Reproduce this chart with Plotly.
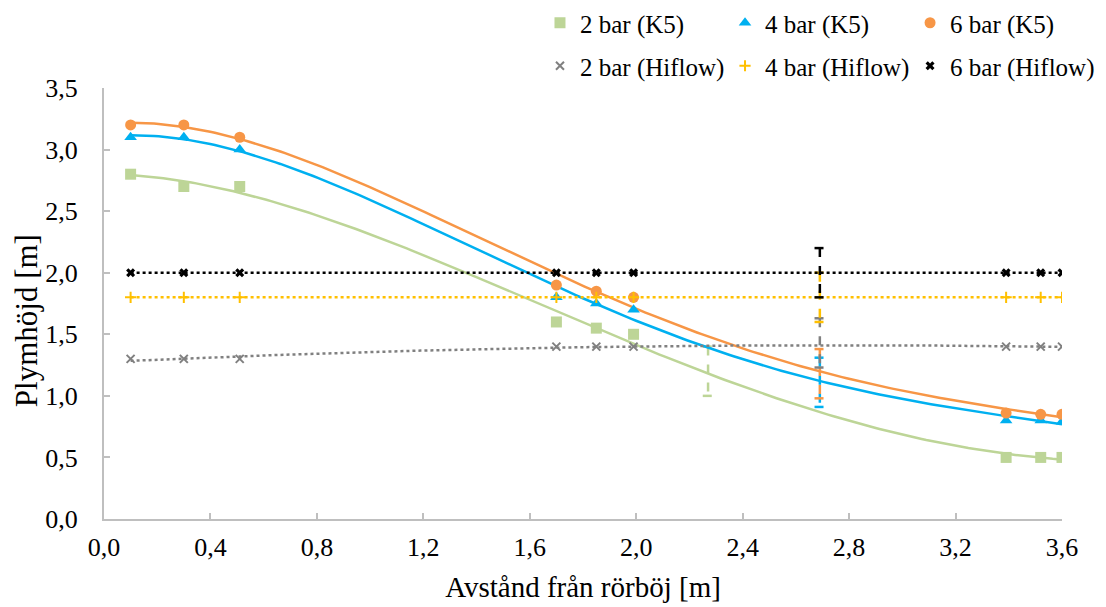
import numpy as np
import plotly.graph_objects as go

# ---------------- data ----------------
x_pos = [0.1, 0.3, 0.51, 1.7, 1.85, 1.99, 3.39, 3.52, 3.6]

k5_2bar = [2.8, 2.7, 2.7, 1.6, 1.55, 1.5, 0.5, 0.5, 0.5]
k5_4bar = [3.1, 3.1, 3.0, 1.8, 1.75, 1.7, 0.8, 0.8, 0.79]
k5_6bar = [3.2, 3.2, 3.1, 1.9, 1.85, 1.8, 0.86, 0.85, 0.85]

hf_2bar = [1.3, 1.3, 1.3, 1.4, 1.4, 1.4, 1.4, 1.4, 1.4]
hf_4bar = [1.8, 1.8, 1.8, 1.8, 1.8, 1.8, 1.8, 1.8, 1.8]
hf_6bar = [2.0, 2.0, 2.0, 2.0, 2.0, 2.0, 2.0, 2.0, 2.0]

series_names = ["2 bar (K5)", "4 bar (K5)", "6 bar (K5)",
                "2 bar (Hiflow)", "4 bar (Hiflow)", "6 bar (Hiflow)"]
trend_degree = [4, 4, 4, 2, 1, 1]
# error bars (±0.2) drawn without a marker, one per series
errbar_x = [2.27, 2.69, 2.69, 2.69, 2.69, 2.69]
errbar_y = [1.2, 1.11, 1.18, 1.43, 1.8, 2.0]
errbar_half = 0.2

x_ticks = [0.0, 0.4, 0.8, 1.2, 1.6, 2.0, 2.4, 2.8, 3.2, 3.6]
y_ticks = [0.0, 0.5, 1.0, 1.5, 2.0, 2.5, 3.0, 3.5]

x_title = "Avstånd från rörböj [m]"
y_title = "Plymhöjd [m]"

# ---------------- styles ----------------
colors = ["#BDD597", "#00B0F0", "#F79646", "#808080", "#FFC000", "#000000"]
symbols = ["square", "triangle-up", "circle", "x-thin-open", "cross-thin-open", "x"]
sizes = [11, 11, 11, 8, 8, 8]
values = [k5_2bar, k5_4bar, k5_6bar, hf_2bar, hf_4bar, hf_6bar]

# legend grid: 3 columns x 2 rows (container fractions)
legend_cols = [0.481, 0.6483, 0.8156]
legend_rows = [1 - 15 / 607, 1 - 58 / 607]

FONT = "Liberation Serif"

fig = go.Figure()
xfine = np.linspace(min(x_pos), max(x_pos), 200)

for i, (name, vals) in enumerate(zip(series_names, values)):
    coef = np.polyfit(np.array(x_pos), np.array(vals), trend_degree[i])
    yfine = np.polyval(coef, xfine)
    dash = "solid" if i < 3 else "dot"
    fig.add_trace(go.Scatter(x=xfine, y=yfine, mode="lines",
                             line=dict(color=colors[i], width=2.5, dash=dash),
                             showlegend=False, hoverinfo="skip"))
    ex, ec = errbar_x[i], errbar_y[i]
    cw = 0.02
    bx = [ex - cw, ex + cw, None, ex, ex, None, ex - cw, ex + cw]
    by = [ec + errbar_half, ec + errbar_half, None,
          ec + errbar_half, ec - errbar_half, None,
          ec - errbar_half, ec - errbar_half]
    fig.add_trace(go.Scatter(x=bx, y=by, mode="lines",
                             line=dict(color=colors[i], width=2.5, dash="dash"),
                             showlegend=False, hoverinfo="skip"))

legend_layout = {}
for i, (name, vals) in enumerate(zip(series_names, values)):
    mk = dict(color=colors[i], size=sizes[i], symbol=symbols[i])
    if "open" in symbols[i]:
        mk["line"] = dict(color=colors[i], width=2)
    else:
        mk["line"] = dict(width=0)
    lg = "legend" if i == 0 else f"legend{i + 1}"
    fig.add_trace(go.Scatter(x=x_pos, y=vals, mode="markers", name=name,
                             marker=mk, legend=lg))
    legend_layout[lg] = dict(
        orientation="h", xref="container", yref="container",
        xanchor="left", yanchor="middle",
        x=legend_cols[i % 3], y=legend_rows[i // 3],
        font=dict(family=FONT, size=25, color="#000000"),
        bgcolor="rgba(0,0,0,0)", itemclick=False)

tick_font = dict(family=FONT, size=26, color="#000000")

fig.update_layout(
    width=1106, height=607,
    margin=dict(l=96, r=52, t=80, b=96, autoexpand=False),
    paper_bgcolor="white", plot_bgcolor="white",
    separators=", ",
    font=dict(family=FONT, color="#000000"),
    xaxis=dict(range=[0, 3.6], tickvals=x_ticks, tickformat=".1f",
               showgrid=False, zeroline=False, showline=True,
               linecolor="#BFBFBF", linewidth=2,
               ticks="inside", ticklen=6, tickcolor="#BFBFBF", tickwidth=1.5,
               tickfont=tick_font, ticklabelstandoff=4,
               title=dict(text=x_title,
                          font=dict(family=FONT, size=29), standoff=15)),
    yaxis=dict(range=[0, 3.5], tickvals=y_ticks, tickformat=".1f",
               showgrid=False, zeroline=False, showline=True,
               linecolor="#BFBFBF", linewidth=2,
               ticks="inside", ticklen=6, tickcolor="#BFBFBF", tickwidth=1.5,
               tickfont=tick_font, ticklabelstandoff=19),
    annotations=[dict(text=y_title, textangle=-90, showarrow=False,
                      xref="paper", yref="paper", x=-0.0814, y=0.459,
                      xanchor="center", yanchor="middle",
                      font=dict(family=FONT, size=31, color="#000000"))],
    **legend_layout,
)

fig.write_html("out.html")
